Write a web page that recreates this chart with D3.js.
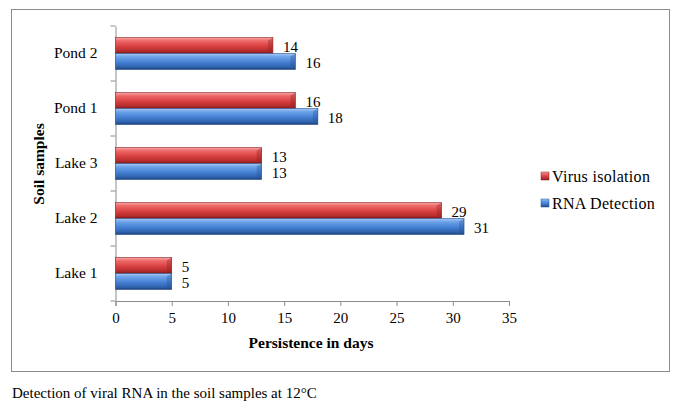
<!DOCTYPE html>
<html>
<head>
<meta charset="UTF-8" />
<title>soil samples</title>
<script src="https://d3js.org/d3.v7.min.js"></script>
<style>
  body { margin: 0; background: #fff; }
  svg text { font-family: "Liberation Serif", "DejaVu Serif", serif !important; fill: #000; }
</style>
</head>
<body>
<svg id="chart" width="679" height="415"></svg>
<script>
// data
const samples = ["Lake 1", "Lake 2", "Lake 3", "Pond 1", "Pond 2"]
const virusIsolation = [5, 29, 13, 16, 14]
const rnaDetection = [5, 31, 13, 18, 16]
const seriesNames = ["Virus isolation", "RNA Detection"]
const xTicks = [0, 5, 10, 15, 20, 25, 30, 35]

const svg = d3.select("#chart")

// gradients for the bevelled bars
const defs = svg.append("defs")
function grad(id, stops) {
  const g = defs.append("linearGradient").attr("id", id)
    .attr("x1", 0).attr("y1", 0).attr("x2", 0).attr("y2", 1)
  stops.forEach(s => g.append("stop").attr("offset", s[0]).attr("stop-color", s[1]))
}
grad("gRed", [[0, "#f8a8a8"], [0.2, "#ee6a6a"], [0.55, "#d84040"], [0.85, "#b42c2c"], [1, "#7a1515"]])
grad("gBlue", [[0, "#a8caf5"], [0.2, "#6ea3e8"], [0.55, "#4580d4"], [0.85, "#2f62ac"], [1, "#1d3f78"]])
const colors = ["url(#gRed)", "url(#gBlue)"]
const strokes = ["#8a2020", "#254f8f"]
const serif = "Liberation Serif"

// outer frame
svg.append("rect").attr("x", 11.5).attr("y", 9.5).attr("width", 658).attr("height", 362)
  .attr("fill", "none").attr("stroke", "#8c8c8c").attr("stroke-width", 1)

const x = d3.scaleLinear().domain([0, 35]).range([115.5, 509])
const y = d3.scaleBand().domain(samples).range([301, 26])
const sub = d3.scaleBand().domain([0, 1]).range([0, 32])
const pad = (y.bandwidth() - 32) / 2

// axes
const xAxis = svg.append("g").attr("transform", "translate(0,301)")
  .call(d3.axisBottom(x).tickValues(xTicks).tickSize(5).tickPadding(6).tickSizeOuter(5))
xAxis.attr("font-family", serif)
xAxis.select(".domain").attr("stroke", "#8c8c8c")
xAxis.selectAll(".tick line").attr("stroke", "#8c8c8c")
xAxis.selectAll("text").style("font-size", "15px")

const yAxis = svg.append("g").attr("transform", "translate(115.5,0)")
  .call(d3.axisLeft(y).tickSize(0).tickPadding(18))
yAxis.attr("font-family", serif)
yAxis.select(".domain").attr("stroke", "#8c8c8c")
yAxis.selectAll("text").style("font-size", "15.5px")
// category boundary ticks
yAxis.selectAll("line.sep").data(d3.range(samples.length + 1)).enter().append("line")
  .attr("class", "sep").attr("x1", -5).attr("x2", 0)
  .attr("y1", i => 301 - i * y.step()).attr("y2", i => 301 - i * y.step())
  .attr("stroke", "#8c8c8c")

// bars
const rows = samples.map((s, i) => ({ s, v: [virusIsolation[i], rnaDetection[i]] }))
const grp = svg.append("g").selectAll("g").data(rows).enter().append("g")
  .attr("transform", d => `translate(0,${y(d.s) + pad})`)

grp.selectAll("rect").data(d => d.v).enter().append("rect")
  .attr("x", x(0)).attr("y", (d, i) => sub(i))
  .attr("width", d => x(d) - x(0)).attr("height", sub.bandwidth())
  .attr("fill", (d, i) => colors[i])
  .attr("stroke", (d, i) => strokes[i]).attr("stroke-width", 0.6)

// bevelled end cap
grp.selectAll("path").data(d => d.v).enter().append("path")
  .attr("d", (d, i) => {
    const x1 = x(d), y0 = sub(i), h = sub.bandwidth()
    return `M${x1 - 5},${y0 + 3}L${x1},${y0}L${x1},${y0 + h}L${x1 - 5},${y0 + h - 3}Z`
  })
  .attr("fill", (d, i) => strokes[i]).attr("opacity", 0.35)

grp.selectAll("text").data(d => d.v).enter().append("text")
  .attr("x", d => x(d) + 10).attr("y", (d, i) => sub(i) + sub.bandwidth() / 2 + 1.5)
  .attr("dy", "0.35em").style("font-size", "15px").text(d => d)

// axis titles
svg.append("text").attr("x", 311).attr("y", 348).attr("text-anchor", "middle")
  .style("font-size", "15.5px").style("font-weight", "bold").text("Persistence in days")
svg.append("text").attr("transform", "translate(44,164) rotate(-90)").attr("text-anchor", "middle")
  .style("font-size", "15.5px").style("font-weight", "bold").text("Soil samples")

// legend
const leg = svg.append("g").attr("transform", "translate(541,172)")
seriesNames.forEach((n, i) => {
  leg.append("rect").attr("x", 0).attr("y", i * 27).attr("width", 8).attr("height", 8)
    .attr("fill", colors[i]).attr("stroke", strokes[i]).attr("stroke-width", 0.5)
  leg.append("text").attr("x", 11).attr("y", i * 27 + 4).attr("dy", "0.35em")
    .style("font-size", "16px").style("letter-spacing", "0.3px").text(n)
})

// caption
svg.append("text").attr("x", 12).attr("y", 398).style("font-size", "15px")
  .text("Detection of viral RNA in the soil samples at 12°C")
</script>
</body>
</html>
